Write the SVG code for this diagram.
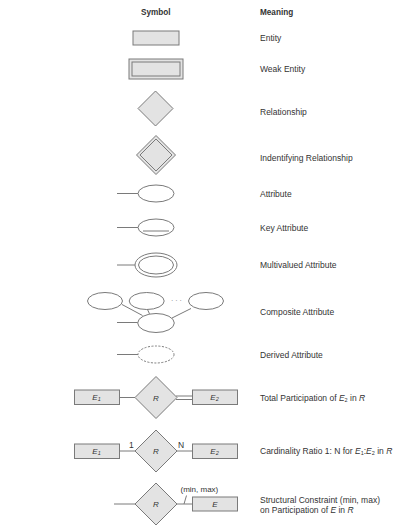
<svg xmlns="http://www.w3.org/2000/svg" width="408" height="530" viewBox="0 0 408 530">
<style>
  .shape { fill: #e3e3e3; stroke: #7a7a7a; stroke-width: 1; }
  .line { fill: none; stroke: #7a7a7a; stroke-width: 1; }
  .oval { fill: #ffffff; stroke: #7a7a7a; stroke-width: 1; }
  .dash { fill: #ffffff; stroke: #7a7a7a; stroke-width: 1; stroke-dasharray: 2 1.5; }
  text { font-family: "Liberation Sans", Arial, sans-serif; font-size: 8.5px; fill: #333333; }
  .head { font-weight: bold; font-size: 8.2px; }
  .lbl { text-anchor: middle; font-style: italic; font-size: 8px; }
  .sub { font-size: 5.5px; }
</style>
<rect width="408" height="530" fill="#ffffff"/>

<g id="headers">
  <text class="head" x="141" y="15">Symbol</text>
  <text class="head" x="260" y="15">Meaning</text>
</g>

<g id="entity">
  <rect class="shape" x="133" y="31" width="46" height="14"/>
  <text x="260" y="40.5">Entity</text>
</g>

<g id="weak-entity">
  <rect class="shape" x="129" y="59" width="54" height="20"/>
  <rect class="shape" x="132" y="62" width="48" height="14"/>
  <text x="260" y="72">Weak Entity</text>
</g>

<g id="relationship">
  <polygon class="shape" points="155.5,91 173,108.5 155.5,126 138,108.5"/>
  <text x="260" y="114.5">Relationship</text>
</g>

<g id="identifying-relationship">
  <polygon class="shape" points="156,135.5 175.5,155 156,174.5 136.5,155"/>
  <polygon class="shape" points="156,139 172,155 156,171 140,155"/>
  <text x="260" y="161">Indentifying Relationship</text>
</g>

<g id="attribute">
  <ellipse class="oval" cx="156" cy="193.5" rx="18" ry="8.5"/>
  <text x="260" y="197">Attribute</text>
</g>

<g id="key-attribute">
  <ellipse class="oval" cx="156" cy="227.5" rx="18" ry="8.5"/>
  <line class="line" x1="143" y1="231" x2="169" y2="231"/>
  <text x="260" y="231">Key Attribute</text>
</g>

<g id="multivalued-attribute">
  <ellipse class="oval" cx="156" cy="265" rx="21" ry="12"/>
  <ellipse class="oval" cx="156" cy="265" rx="17.5" ry="9"/>
  <text x="260" y="268">Multivalued Attribute</text>
</g>

<g id="composite-attribute">
  <ellipse class="oval" cx="105" cy="301" rx="17.5" ry="8.5"/>
  <ellipse class="oval" cx="146.7" cy="301" rx="17.5" ry="8.5"/>
  <ellipse class="oval" cx="206" cy="301" rx="17.5" ry="8.5"/>
  <ellipse class="oval" cx="156" cy="323" rx="18.3" ry="9.5"/>
  <text x="171" y="303" style="font-size:7px;fill:#777">· · ·</text>
  <text x="260" y="315">Composite Attribute</text>
</g>

<g id="derived-attribute">
  <ellipse class="dash" cx="156" cy="354.5" rx="18" ry="8.5"/>
  <text x="260" y="357.5">Derived Attribute</text>
</g>

<g id="total-participation">
  <rect class="shape" x="74.5" y="390" width="45" height="14.5"/>
  <text class="lbl" x="96.5" y="400">E<tspan class="sub" dy="1">1</tspan></text>
  <polygon class="shape" points="156,376.5 177,397.5 156,418.5 135,397.5"/>
  <text class="lbl" x="156" y="400.5">R</text>
  <rect class="shape" x="192.5" y="390" width="45" height="14.5"/>
  <text class="lbl" x="214.5" y="400">E<tspan class="sub" dy="1">2</tspan></text>
  <text x="260" y="400.5">Total Participation of <tspan font-style="italic">E</tspan><tspan class="sub" dy="1">2</tspan><tspan dy="-1"> in </tspan><tspan font-style="italic">R</tspan></text>
</g>

<g id="cardinality-ratio">
  <rect class="shape" x="74.5" y="444" width="45" height="14.5"/>
  <text class="lbl" x="96.5" y="454">E<tspan class="sub" dy="1">1</tspan></text>
  <polygon class="shape" points="156,430 177,451 156,472 135,451"/>
  <text class="lbl" x="156" y="454">R</text>
  <rect class="shape" x="192.5" y="444" width="45" height="14.5"/>
  <text class="lbl" x="214.5" y="454">E<tspan class="sub" dy="1">2</tspan></text>
  <text x="129" y="448">1</text>
  <text x="178" y="448">N</text>
  <text x="260" y="454">Cardinality Ratio 1: N for <tspan font-style="italic">E</tspan><tspan class="sub" dy="1">1</tspan><tspan dy="-1">:</tspan><tspan font-style="italic">E</tspan><tspan class="sub" dy="1">2</tspan><tspan dy="-1"> in </tspan><tspan font-style="italic">R</tspan></text>
</g>

<g id="structural-constraint">
  <polygon class="shape" points="156,483 177,504 156,525 135,504"/>
  <text class="lbl" x="156" y="507">R</text>
  <rect class="shape" x="192.5" y="497" width="45" height="14"/>
  <text class="lbl" x="215" y="507">E</text>
  <text x="180.5" y="491.5" style="font-size:8px">(min, max)</text>
  <text x="260" y="502.5">Structural Constraint (min, max)</text>
  <text x="260" y="512.5">on Participation of <tspan font-style="italic">E</tspan> in <tspan font-style="italic">R</tspan></text>
</g>

<g id="connectors">
  <line class="line" x1="117" y1="193.5" x2="138" y2="193.5"/>
  <line class="line" x1="117" y1="227.5" x2="138" y2="227.5"/>
  <line class="line" x1="117" y1="265" x2="135" y2="265"/>
  <line class="line" x1="122" y1="304.5" x2="142.5" y2="315.5"/>
  <line class="line" x1="147.5" y1="309.5" x2="149.5" y2="313.8"/>
  <line class="line" x1="191" y1="308.5" x2="172" y2="318"/>
  <line class="line" x1="117" y1="322.5" x2="137.7" y2="322.5"/>
  <line class="line" x1="117" y1="354.5" x2="138" y2="354.5"/>
  <line class="line" x1="119.5" y1="397.5" x2="135" y2="397.5"/>
  <line class="line" x1="176" y1="396" x2="192.5" y2="396"/>
  <line class="line" x1="176" y1="399.5" x2="192.5" y2="399.5"/>
  <line class="line" x1="119.5" y1="451" x2="135" y2="451"/>
  <line class="line" x1="177" y1="451" x2="192.5" y2="451"/>
  <line class="line" x1="114" y1="504" x2="135" y2="504"/>
  <line class="line" x1="177" y1="504" x2="192.5" y2="504"/>
  <line class="line" x1="186.5" y1="495.5" x2="184" y2="504"/>
</g>
</svg>
